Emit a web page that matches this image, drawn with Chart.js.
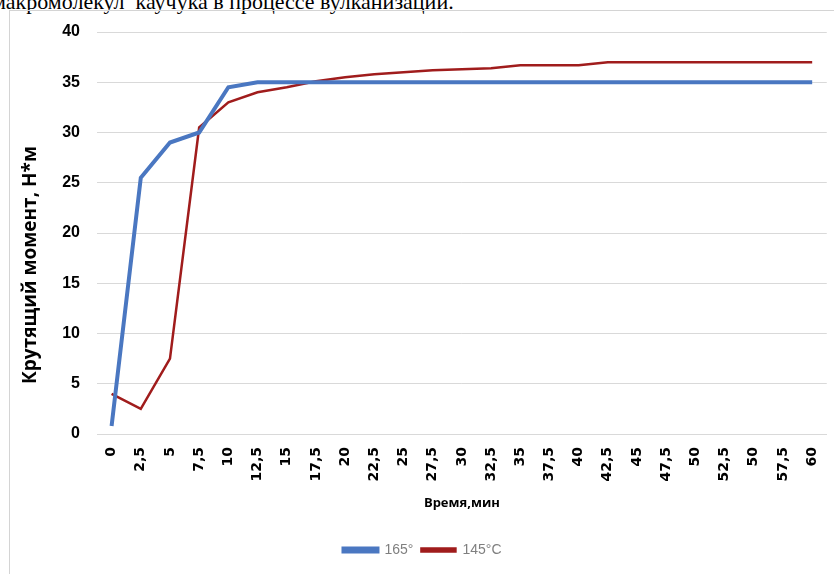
<!DOCTYPE html>
<html lang="ru">
<head>
<meta charset="utf-8">
<title>Крутящий момент</title>
<script src="https://cdn.jsdelivr.net/npm/chart.js@4/dist/chart.umd.min.js"></script>
<style>
  html, body { margin: 0; padding: 0; background: #fff; }
  body { width: 834px; height: 574px; position: relative; overflow: hidden; }
  .caption {
    position: absolute; left: -8px; top: -9px;
    font-family: "Liberation Serif", "Times New Roman", serif;
    font-size: 22px; line-height: 22px; color: #000; white-space: nowrap;
  }
  .frame {
    position: absolute; left: 9px; top: 10px; width: 840px; height: 600px;
    border-left: 1px solid #d4d4d4; border-top: 1px solid #d4d4d4;
  }
  #wrap { position: absolute; left: 0; top: 0; width: 834px; height: 574px; }
</style>
</head>
<body>
<div class="caption">макромолекул&nbsp; каучука в процессе вулканизации.</div>
<div class="frame"></div>
<div id="wrap"><canvas id="torque-chart"></canvas></div>
<script>
// time axis labels, as printed on the original (note the repeated "50")
const timeLabels = ['0', '2,5', '5', '7,5', '10', '12,5', '15', '17,5', '20', '22,5', '25', '27,5',
  '30', '32,5', '35', '37,5', '40', '42,5', '45', '47,5', '50', '52,5', '50', '57,5', '60'];

// torque, N*m
const torque165 = [0.8, 25.5, 29, 30, 34.5, 35, 35, 35, 35, 35, 35, 35,
  35, 35, 35, 35, 35, 35, 35, 35, 35, 35, 35, 35, 35];
const torque145 = [4, 2.5, 7.5, 30.5, 33, 34, 34.5, 35.1, 35.5, 35.8, 36, 36.2,
  36.3, 36.4, 36.7, 36.7, 36.7, 37, 37, 37, 37, 37, 37, 37, 37];

const BLUE = '#4a77c1';
const RED = '#a01c1c';
const Y_TITLE = 'Крутящий момент, Н*м';

// y title sits a bit below the middle of the axis in the original
const yTitlePlugin = {
  id: 'yTitle',
  afterDraw(chart) {
    const { ctx, chartArea } = chart;
    ctx.save();
    ctx.translate(31, (chartArea.top + chartArea.bottom) / 2 + 32);
    ctx.rotate(-Math.PI / 2);
    ctx.font = 'bold 19px "Open Sans", sans-serif';
    ctx.fillStyle = '#000';
    ctx.textAlign = 'center';
    ctx.textBaseline = 'middle';
    ctx.fillText(Y_TITLE, 0, 0);
    ctx.restore();
  }
};

new Chart(document.getElementById('torque-chart'), {
  type: 'line',
  data: {
    labels: timeLabels,
    datasets: [
      {
        label: '165°',
        data: torque165,
        borderColor: BLUE,
        backgroundColor: BLUE,
        borderWidth: 4,
        pointRadius: 0,
        tension: 0
      },
      {
        label: '145°C',
        data: torque145,
        borderColor: RED,
        backgroundColor: RED,
        borderWidth: 2.5,
        pointRadius: 0,
        tension: 0
      }
    ]
  },
  options: {
    responsive: true,
    maintainAspectRatio: false,
    animation: false,
    layout: { padding: { left: 12, top: 32, right: 1, bottom: 7 } },
    plugins: {
      tooltip: { enabled: false },
      legend: {
        position: 'bottom',
        labels: {
          boxWidth: 34,
          boxHeight: 3,
          padding: 8,
          color: '#7f7f7f',
          font: { family: '"Liberation Sans Narrow", "Liberation Sans", sans-serif', size: 14 }
        }
      }
    },
    scales: {
      x: {
        offset: true,
        grid: { display: false },
        border: { color: '#d9d9d9' },
        ticks: {
          autoSkip: false,
          maxRotation: 90,
          minRotation: 90,
          color: '#000',
          padding: 5,
          font: { family: '"DejaVu Sans", sans-serif', size: 14, weight: 'bold' }
        },
        title: {
          display: true,
          text: 'Время,мин',
          color: '#000',
          padding: { top: 0, bottom: 24 },
          font: { family: '"Open Sans", sans-serif', size: 13, weight: 'bold' }
        },
        afterFit: (scale) => { scale.height = 101; }
      },
      y: {
        min: 0,
        max: 40,
        grid: { color: '#d9d9d9', drawTicks: false },
        border: { display: false },
        ticks: {
          stepSize: 5,
          color: '#000',
          padding: 17,
          font: { family: '"Liberation Sans Narrow", "Liberation Sans", sans-serif', size: 16, weight: 'bold' }
        },
        afterFit: (scale) => { scale.width = 85; }
      }
    }
  },
  plugins: [yTitlePlugin]
});
</script>
</body>
</html>
